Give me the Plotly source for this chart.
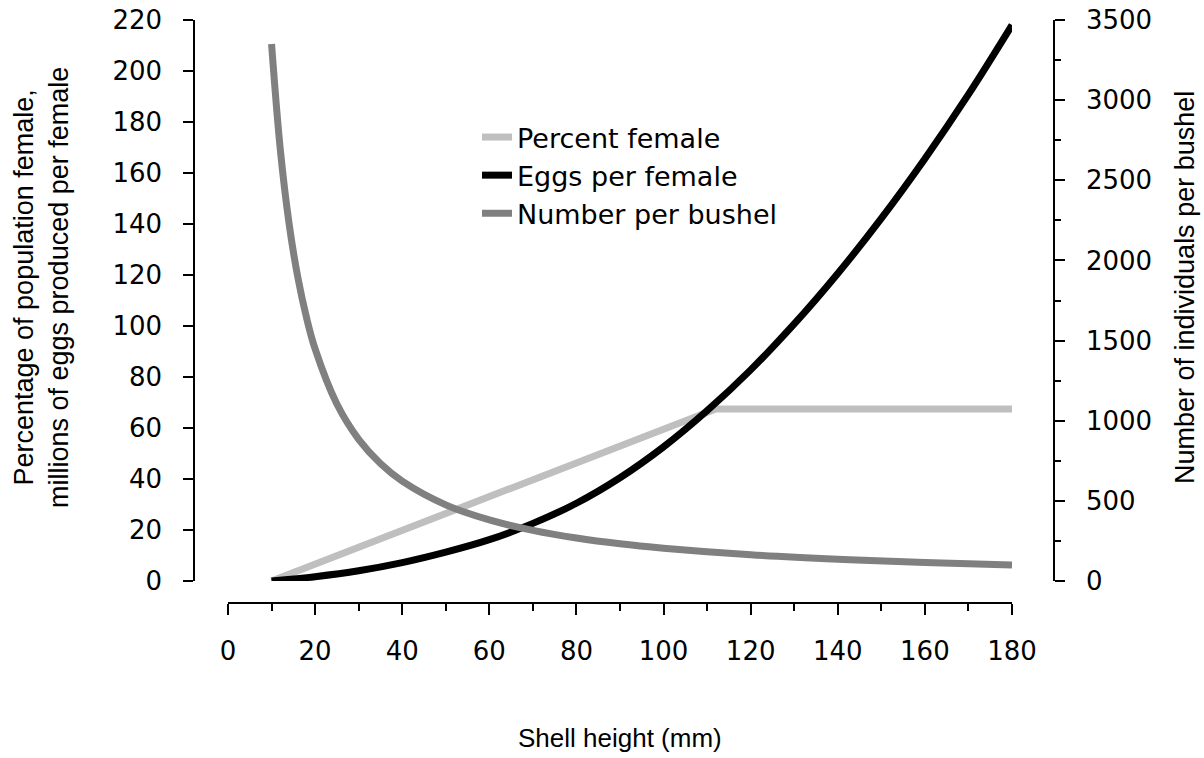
import plotly.graph_objects as go

# Shell height (mm)
pf_x = [10, 112, 180]
pf_y = [0, 67.5, 67.5]          # Percent female

egg_x = [10, 20, 30, 40, 50, 60, 70, 80, 90, 100, 110, 120, 130, 140, 150, 160, 170, 180]
egg_y = [0, 1.7, 4.0, 7.2, 11.3, 16.2, 22.6, 30.5, 40.5, 52.6, 66.8, 82.8, 100.8, 120.6, 142.2, 165.6, 190.8, 218.0]  # Eggs per female (millions)

nb_x = [10, 12, 14, 16, 18, 20, 25, 30, 35, 40, 50, 60, 70, 80, 90, 100, 120, 140, 160, 180]
nb_y = [3350, 2694, 2234, 1899, 1646, 1448, 1104, 884, 733, 623, 475, 381, 316, 268, 232, 205, 164, 136, 115, 100]  # Number per bushel

FONT = "Liberation Sans, Arial, sans-serif"
TICKFONT = dict(family="DejaVu Sans", size=26, color="black")
LEGFONT = dict(family="DejaVu Sans", size=27, color="black")

fig = go.Figure()
fig.add_trace(go.Scatter(x=pf_x, y=pf_y, mode="lines", name="Percent female",
                         line=dict(color="#bfbfbf", width=7)))
fig.add_trace(go.Scatter(x=egg_x, y=egg_y, mode="lines", name="Eggs per female",
                         line=dict(color="#000000", width=7, shape="spline")))
fig.add_trace(go.Scatter(x=nb_x, y=nb_y, mode="lines", name="Number per bushel",
                         line=dict(color="#808080", width=7, shape="spline"), yaxis="y2"))

W, H = 1204, 758
L, R, T, B = 194, W - 1054, 20, H - 603
pw, ph = W - L - R, H - T - B

def px(xs):
    return (xs - L) / pw

def py(ys):
    return (603 - ys) / ph

fig.update_layout(
    width=W, height=H,
    margin=dict(l=L, r=R, t=T, b=B, pad=0, autoexpand=False),
    paper_bgcolor="white", plot_bgcolor="white",
    font=dict(family=FONT, size=26, color="black"),
    showlegend=True,
    legend=dict(x=px(477), y=py(113), xanchor="left", yanchor="top",
                font=LEGFONT, bgcolor="rgba(0,0,0,0)", tracegroupgap=0),
    xaxis=dict(domain=[px(228), px(1012)], range=[0, 180], anchor="free", position=0, automargin=False,
               showline=True, linecolor="black", linewidth=1.5, showgrid=False, zeroline=False,
               ticks="outside", ticklen=11, tickwidth=1.5, tickcolor="black", dtick=20, tick0=0,
               minor=dict(ticks="outside", ticklen=7, tickwidth=1.5, tickcolor="black", dtick=10, showgrid=False),
               ticklabelstandoff=14, tickfont=TICKFONT),
    yaxis=dict(domain=[py(581), 1], range=[0, 220], anchor="free", position=0, automargin=False,
               showline=True, linecolor="black", linewidth=1.5, showgrid=False, zeroline=False,
               ticks="outside", ticklen=10, tickwidth=1.5, tickcolor="black", dtick=20, tick0=0,
               ticklabelstandoff=16, tickfont=TICKFONT),
    yaxis2=dict(domain=[py(581), 1], range=[0, 3500], overlaying="y", side="right",
                anchor="free", position=1, automargin=False,
                showline=True, linecolor="black", linewidth=1.5, showgrid=False, zeroline=False,
                ticks="outside", ticklen=10, tickwidth=1.5, tickcolor="black", dtick=500, tick0=0,
                minor=dict(ticks="outside", ticklen=6, tickwidth=1.5, tickcolor="black", dtick=250, showgrid=False),
                ticklabelstandoff=16, tickfont=TICKFONT),
    annotations=[
        dict(text="Percentage of population female,<br>millions of eggs produced per female",
             xref="paper", yref="paper", x=px(41), y=py(288),
             textangle=-90, showarrow=False, font=dict(size=27), xanchor="center", yanchor="middle"),
        dict(text="Number of individuals per bushel",
             xref="paper", yref="paper", x=px(1185), y=py(288),
             textangle=-90, showarrow=False, font=dict(size=27), xanchor="center", yanchor="middle"),
        dict(text="Shell height (mm)",
             xref="paper", yref="paper", x=px(620), y=py(738),
             showarrow=False, font=dict(size=26), xanchor="center", yanchor="middle"),
    ],
)

fig.write_html("out.html", config={"displayModeBar": False},
               post_script="document.body.style.margin='0px';")
